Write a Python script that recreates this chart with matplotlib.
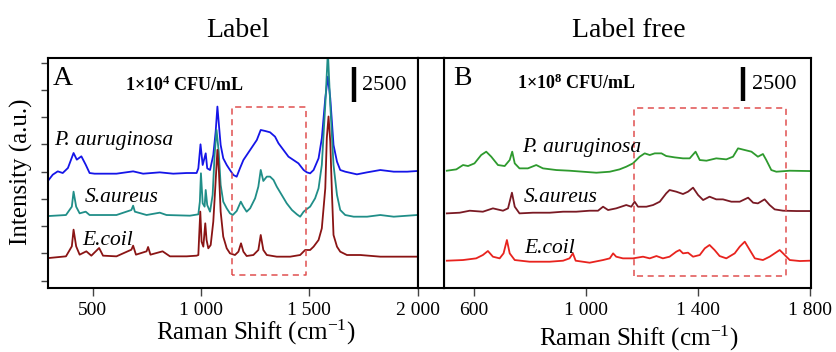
import matplotlib
matplotlib.use("Agg")
import matplotlib.pyplot as plt
from matplotlib.ticker import FuncFormatter

plt.rcParams['font.family'] = ['Liberation Serif', 'DejaVu Serif']
plt.rcParams['mathtext.fontset'] = 'custom'
plt.rcParams['mathtext.rm'] = 'Liberation Serif'
plt.rcParams['mathtext.it'] = 'Liberation Serif:italic'
plt.rcParams['mathtext.bf'] = 'Liberation Serif:bold'

# ---- Panel A : label (SERS tag), 1x10^4 CFU/mL ----
wn_pa_A = [298, 316, 339, 362, 386, 412, 427, 448, 468, 486, 509, 532, 610, 687, 733, 810, 872, 934, 980,
           988, 998, 1008, 1022, 1029, 1042, 1057, 1068, 1076, 1083, 1091, 1103, 1119, 1134, 1150, 1165,
           1180, 1196, 1227, 1258, 1276, 1296, 1319, 1342, 1358, 1381, 1404, 1427, 1450, 1474, 1489, 1504,
           1520, 1543, 1558, 1574, 1586, 1597, 1612, 1628, 1643, 1666, 1720, 1767, 1828, 1890, 1952, 1998]
int_pa_A = [-490, -122, 122, 0, 368, 1470, 980, 1225, 612, 0, -49, -49, -49, 122, -49, 49, -49, 0, 0,
            343, 2107, 588, 1446, 343, 220, 1323, 3038, 4876, 3528, 2058, 1078, 588, 220, -147, -270,
            343, 955, 1690, 2425, 3160, 3087, 2989, 2670, 2180, 1690, 1200, 955, 710, 220, 49, -25,
            220, 1078, 2548, 5488, 7080, 5488, 2058, 833, 220, 98, -98, 49, 220, 98, 98, 147]

wn_sa_A = [298, 377, 404, 412, 424, 440, 468, 486, 610, 679, 687, 695, 749, 810, 841, 949, 988, 995, 1000,
           1008, 1017, 1022, 1029, 1042, 1054, 1063, 1072, 1082, 1091, 1103, 1119, 1134, 1147, 1165, 1184,
           1196, 1211, 1227, 1250, 1265, 1276, 1288, 1304, 1319, 1335, 1350, 1373, 1396, 1420, 1443, 1458,
           1474, 1489, 1504, 1527, 1543, 1558, 1574, 1586, 1597, 1612, 1628, 1643, 1666, 1705, 1767, 1828,
           1890, 1998]
int_sa_A = [-74, 0, 612, 1715, 612, 122, 245, 0, 0, 368, 686, 245, 0, 172, 0, -49, 49, 980, 3063,
            858, 613, 1838, 735, 245, 1470, 4410, 6248, 4655, 2205, 980, 490, 123, 0, 294, 980,
            613, 245, 490, 1225, 2083, 3308, 2499, 2818, 2818, 2573, 2083, 1470, 858, 368, 49, -123,
            245, 441, 613, 1225, 1960, 3675, 8085, 12000, 8085, 3675, 1470, 368, 0, -123, -123, 0,
            -123, 0]

wn_ec_A = [298, 377, 404, 412, 424, 440, 471, 494, 530, 548, 610, 679, 687, 700, 749, 756, 767, 823, 857,
           934, 980, 988, 992, 997, 1003, 1011, 1020, 1026, 1034, 1045, 1057, 1066, 1076, 1083, 1091, 1103,
           1119, 1134, 1157, 1173, 1185, 1196, 1211, 1242, 1265, 1276, 1288, 1304, 1350, 1412, 1458, 1481,
           1504, 1520, 1543, 1558, 1574, 1581, 1589, 1597, 1605, 1612, 1628, 1643, 1674, 1736, 1828, 1998]
int_ec_A = [-74, 49, 784, 2009, 784, 172, 417, 98, 662, 98, 49, 539, 833, 172, 417, 735, 172, 417, 49,
            49, 98, 147, 1617, 3332, 1127, 760, 2475, 1250, 637, 882, 2597, 5047, 7865, 6272, 3332, 1495,
            637, 270, 147, 392, 1005, 392, 74, 147, 515, 1617, 515, 147, 25, 25, 147, 515,
            515, 760, 1250, 2107, 5047, 8722, 10315, 8477, 4557, 1617, 760, 392, 147, 147, 25, 25]

# ---- Panel B : label free, 1x10^8 CFU/mL ----
wn_pa_B = [502, 536, 560, 578, 601, 625, 643, 661, 685, 709, 727, 736, 745, 762, 792, 822, 846, 894, 941,
           989, 1037, 1085, 1120, 1144, 1168, 1192, 1210, 1228, 1246, 1270, 1287, 1317, 1347, 1371, 1392,
           1407, 1431, 1466, 1502, 1526, 1544, 1568, 1592, 1615, 1633, 1645, 1663, 1681, 1729, 1800]
int_pa_B = [0, 98, 417, 343, 539, 1152, 1397, 1029, 417, 343, 784, 1397, 539, 172, 172, 417, 172, 49, 0,
            -74, -147, -74, 98, 294, 539, 1029, 1274, 1152, 1274, 1274, 1078, 980, 907, 907, 1397,
            784, 735, 907, 833, 1029, 1642, 1519, 1397, 1029, 1225, 784, 49, -74, 0, -25]

wn_sa_B = [502, 548, 584, 631, 667, 703, 721, 735, 745, 762, 810, 870, 918, 965, 1013, 1043, 1061, 1079,
           1108, 1144, 1162, 1174, 1186, 1216, 1240, 1264, 1287, 1299, 1323, 1347, 1365, 1383, 1401, 1419,
           1442, 1466, 1490, 1520, 1550, 1580, 1598, 1615, 1639, 1657, 1675, 1705, 1753, 1800]
int_sa_B = [-49, 0, 147, 74, 319, 147, 319, 1470, 441, -49, 0, 0, 74, 74, 147, 147, 441, 196,
            319, 564, 441, 809, 441, 441, 564, 809, 1421, 1666, 1544, 1372, 1544, 1838, 1299, 931,
            1176, 980, 980, 809, 809, 1103, 735, 686, 980, 564, 245, 147, 123, 123]

wn_ec_B = [502, 560, 607, 631, 649, 667, 691, 705, 717, 727, 745, 798, 870, 918, 941, 953, 963, 1013, 1061,
           1085, 1097, 1108, 1132, 1168, 1204, 1228, 1252, 1275, 1299, 1323, 1335, 1347, 1365, 1383, 1407,
           1425, 1442, 1460, 1478, 1502, 1532, 1550, 1568, 1586, 1604, 1633, 1657, 1675, 1693, 1711, 1729,
           1765, 1800]
int_ec_B = [0, 49, 172, 417, 711, 294, 172, 539, 1519, 539, 49, -74, -74, 0, 172, 539, 0, -147, 49,
            172, 539, 294, 172, 172, 294, 172, 343, 172, 294, 662, 784, 539, 588, 294, 417,
            907, 1152, 784, 343, 172, 539, 1029, 1397, 784, 172, 49, 294, 539, 784, 417, 49,
            -25, 0]

# stacking offsets of the traces
off_A = [7904, 4821, 1738]
off_B = [8073, 4990, 1467]
names = ['P. auruginosa', 'S.aureus', 'E.coil']

fig = plt.figure(figsize=(8.37, 3.52), dpi=100)
axA = fig.add_axes([48/837, 1-287.7/352, 370/837, 229.4/352])
axB = fig.add_axes([444.3/837, 1-287.7/352, 366.7/837, 229.4/352])
gap = fig.add_axes([418/837, 1-287.7/352, 26.3/837, 229.4/352])
gap.set_xticks([])
gap.set_yticks([])

spaced = FuncFormatter(lambda v, p: f"{int(v):,}".replace(",", " "))

def style(ax):
    for s in ax.spines.values():
        s.set_linewidth(1.5)
    ax.set_ylim(-515, 16325)
    ax.xaxis.set_major_formatter(spaced)
    ax.tick_params(axis='x', direction='out', length=6, width=1, color='#444',
                   labelsize=14, pad=4.5)

for s in gap.spines.values():
    s.set_linewidth(1.5)

# Panel A
cA = ['#1515e8', '#208e88', '#8a1414']
axA.plot(wn_pa_A, [v + off_A[0] for v in int_pa_A], color=cA[0], lw=1.3)
axA.plot(wn_sa_A, [v + off_A[1] for v in int_sa_A], color=cA[1], lw=1.3)
axA.plot(wn_ec_A, [v + off_A[2] for v in int_ec_A], color=cA[2], lw=1.3)
style(axA)
axA.set_xlim(294, 2002)
axA.set_xticks([500, 1000, 1500, 2000])
axA.set_yticks(range(0, 16001, 2000))
axA.set_yticklabels([])
axA.tick_params(axis='y', direction='out', length=5, width=1, color='#444')
axA.plot([1142, 1142, 1486, 1486, 1142], [418, 12737, 12737, 418, 418],
         ls=(0, (4, 3)), color='#e05050', lw=1.1)
axA.plot([1706, 1706], [13150, 15650], color='k', lw=3.2, solid_capstyle='butt')
axA.text(1745, 14364, '2500', fontsize=16, va='center', ha='left')
axA.text(0.013, 0.882, 'A', transform=axA.transAxes, fontsize=20, va='baseline')
axA.text(0.37, 0.882, r'1×10$^{\mathbf{4}}$ CFU/mL', transform=axA.transAxes, fontsize=13,
         fontweight='bold', ha='center', va='center')
axA.text(321, 10326, names[0], fontsize=15.5, style='italic', va='center')
axA.text(464, 6142, names[1], fontsize=15.5, style='italic', va='center')
axA.text(451, 2986, names[2], fontsize=15.5, style='italic', va='center')

# Panel B
cB = ['#2e9a2e', '#7a1a24', '#e8231e']
axB.plot(wn_pa_B, [v + off_B[0] for v in int_pa_B], color=cB[0], lw=1.3)
axB.plot(wn_sa_B, [v + off_B[1] for v in int_sa_B], color=cB[1], lw=1.3)
axB.plot(wn_ec_B, [v + off_B[2] for v in int_ec_B], color=cB[2], lw=1.3)
style(axB)
axB.set_xlim(493, 1805)
axB.set_xticks([600, 1000, 1400, 1800])
axB.set_yticks([])
axB.plot([1172, 1172, 1716, 1716, 1172], [344, 12653, 12653, 344, 344],
         ls=(0, (4, 3)), color='#e05050', lw=1.1)
axB.plot([1562, 1562], [13200, 15700], color='k', lw=3.2, solid_capstyle='butt')
axB.text(1595, 14437, '2500', fontsize=16, va='center', ha='left')
axB.text(0.025, 0.883, 'B', transform=axB.transAxes, fontsize=20, va='baseline')
axB.text(0.361, 0.891, r'1×10$^{\mathbf{8}}$ CFU/mL', transform=axB.transAxes, fontsize=13,
         fontweight='bold', ha='center', va='center')
axB.text(771, 9812, names[0], fontsize=15.5, style='italic', va='center')
axB.text(778, 6142, names[1], fontsize=15.5, style='italic', va='center')
axB.text(778, 2399, names[2], fontsize=15.5, style='italic', va='center')

# titles and axis labels
fig.text(237.5/837, 1-36.7/352, 'Label', fontsize=20, ha='center', va='baseline')
fig.text(628.5/837, 1-36.7/352, 'Label free', fontsize=20, ha='center', va='baseline')
fig.text(256/837, 1-340/352, 'Raman Shift (cm$^{-1}$)', fontsize=18, ha='center', va='baseline')
fig.text(638.5/837, 1-345.5/352, 'Raman Shift (cm$^{-1}$)', fontsize=18, ha='center', va='baseline')
fig.text(21/837, 1-172/352, 'Intensity (a.u.)', fontsize=18, rotation=90, ha='center', va='center')

fig.savefig('out.png', dpi=100)
